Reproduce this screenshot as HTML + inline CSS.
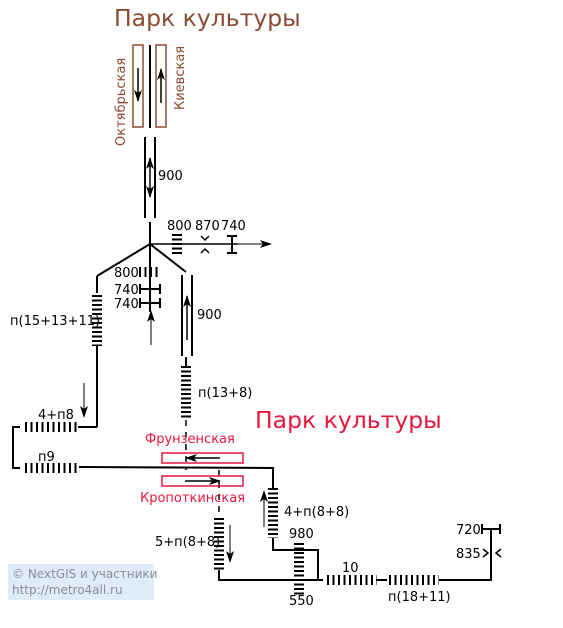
<!DOCTYPE html><html><head><meta charset="utf-8"><style>html,body{margin:0;padding:0;background:#fff}svg{display:block}text{font-family:"DejaVu Sans","Liberation Sans",sans-serif}</style></head><body>
<svg width="563" height="628" viewBox="0 0 563 628" xmlns="http://www.w3.org/2000/svg">
<defs><marker id="a" markerWidth="12" markerHeight="10" refX="11" refY="5" orient="auto" markerUnits="userSpaceOnUse"><path d="M0,1 L12,5 L0,9 L3,5 Z" fill="#000"/></marker></defs>
<text x="114" y="26" font-size="23.5" fill="#8b4a32">Парк культуры</text>
<g fill="none" stroke="#8b4a32" stroke-width="1.5"><rect x="133" y="45" width="10" height="82"/><rect x="156" y="45" width="10" height="82"/></g>
<text transform="translate(125,146) rotate(-90)" font-size="13" fill="#8b4a32">Октябрьская</text>
<text transform="translate(184,110) rotate(-90)" font-size="13" fill="#8b4a32">Киевская</text>
<g stroke="#000" stroke-width="2" fill="none">
<line x1="150" y1="45" x2="150" y2="128"/>
<line x1="145" y1="137" x2="145" y2="218"/><line x1="155" y1="137" x2="155" y2="218"/>
<line x1="150" y1="222" x2="150" y2="312"/>
<line x1="150" y1="244" x2="238" y2="244" stroke-width="1.5"/>
<line x1="150" y1="244" x2="97" y2="276"/><line x1="97" y1="276" x2="97" y2="293"/>
<line x1="150" y1="244" x2="186" y2="272"/>
<line x1="182" y1="275" x2="182" y2="356"/><line x1="192" y1="275" x2="192" y2="356"/>
<line x1="186" y1="357" x2="186" y2="366"/>
<line x1="97" y1="346" x2="97" y2="427"/><line x1="78" y1="427" x2="97" y2="427"/>
<polyline points="20,427 13,427 13,468 20,468"/>
<polyline points="79,467 273,468 273,488"/>
<polyline points="273,538 273,550 318,550 318,580"/>
<polyline points="219,570 219,580 323,580"/>
<line x1="376" y1="580" x2="387" y2="580"/>
<polyline points="439,580 491,580 491,529"/>
<line x1="482" y1="529" x2="500" y2="529"/><line x1="482" y1="524" x2="482" y2="534"/><line x1="500" y1="524" x2="500" y2="534"/>
<line x1="140" y1="289" x2="160" y2="289"/><line x1="140" y1="284" x2="140" y2="294"/><line x1="160" y1="284" x2="160" y2="294"/>
<line x1="140" y1="303" x2="160" y2="303"/><line x1="140" y1="298" x2="140" y2="308"/><line x1="160" y1="298" x2="160" y2="308"/>
<line x1="232" y1="236" x2="232" y2="253"/><line x1="227" y1="236" x2="237" y2="236"/><line x1="227" y1="253" x2="237" y2="253"/>
</g>
<g stroke="#000" stroke-width="1.5" fill="none">
<polyline points="201,236 205,240 209,236"/><polyline points="201,253 205,249 209,253"/>
<polyline points="483,549 488,553 483,557"/><polyline points="501,549 496,553 501,557"/>
</g>
<g stroke="#000" stroke-width="10" stroke-dasharray="2 2.5" fill="none">
<line x1="177" y1="234" x2="177" y2="255"/>
<line x1="97" y1="295" x2="97" y2="346"/>
<line x1="186" y1="366" x2="186" y2="420"/>
<line x1="219" y1="518" x2="219" y2="570"/>
<line x1="273" y1="488" x2="273" y2="538"/>
<line x1="299" y1="543" x2="299" y2="596"/>
</g>
<g stroke="#000" stroke-width="10" stroke-dasharray="2 3.5" fill="none">
<line x1="139" y1="272" x2="161" y2="272"/>
<line x1="25" y1="427" x2="77" y2="427"/>
<line x1="25" y1="468" x2="77" y2="468"/>
<line x1="327" y1="580" x2="377" y2="580"/>
<line x1="389" y1="580" x2="439" y2="580"/>
</g>
<g stroke="#000" stroke-width="1.5" fill="none" stroke-dasharray="6 6">
<line x1="186" y1="420" x2="186" y2="470"/><line x1="219" y1="470" x2="219" y2="518"/>
</g>
<g stroke="#000" stroke-width="1.5" marker-end="url(#a)">
<line x1="138" y1="68" x2="138" y2="101"/><line x1="161" y1="103" x2="161" y2="69"/>
<line x1="150" y1="178" x2="150" y2="158"/><line x1="150" y1="178" x2="150" y2="197"/>
<line x1="238" y1="244" x2="271" y2="244" stroke-width="1"/>
<line x1="151" y1="345" x2="151" y2="311" stroke-width="1"/>
<line x1="187" y1="340" x2="187" y2="296"/>
<line x1="84" y1="383" x2="84" y2="417" stroke-width="1"/>
<line x1="220" y1="458" x2="186" y2="458"/>
<line x1="185" y1="481" x2="220" y2="481"/>
<line x1="230" y1="525" x2="230" y2="562" stroke-width="1"/>
<line x1="264" y1="527" x2="264" y2="491" stroke-width="1"/>
</g>
<g fill="none" stroke="#e8173e" stroke-width="1.5"><rect x="162" y="453" width="81" height="10"/><rect x="162" y="476" width="81" height="10"/></g>
<g font-size="13" fill="#000">
<text x="158" y="180">900</text>
<text x="167" y="230">800</text><text x="195" y="230">870</text><text x="221" y="230">740</text>
<text x="114" y="277">800</text><text x="114" y="294">740</text><text x="114" y="308">740</text>
<text x="10" y="325">п(15+13+11)</text>
<text x="197" y="319">900</text>
<text x="198" y="397">п(13+8)</text>
<text x="38" y="419">4+п8</text><text x="38" y="461">п9</text>
<text x="284" y="516">4+п(8+8)</text>
<text x="155" y="546">5+п(8+8)</text>
<text x="289" y="538">980</text><text x="289" y="605">550</text>
<text x="342" y="572">10</text><text x="388" y="601">п(18+11)</text>
<text x="456" y="534">720</text><text x="456" y="558">835</text>
</g>
<text x="255" y="428" font-size="23.5" fill="#e8173e">Парк культуры</text>
<text x="145" y="443" font-size="13" fill="#e8173e">Фрунзенская</text>
<text x="140" y="502" font-size="13" fill="#e8173e">Кропоткинская</text>
<rect x="8" y="564" width="146" height="36" fill="#dce9f7" opacity="0.9"/>
<text x="12" y="578" font-size="12" fill="#8a8f96">© NextGIS и участники</text>
<text x="12" y="594" font-size="12" fill="#8a8f96">http://metro4all.ru</text>
</svg></body></html>
